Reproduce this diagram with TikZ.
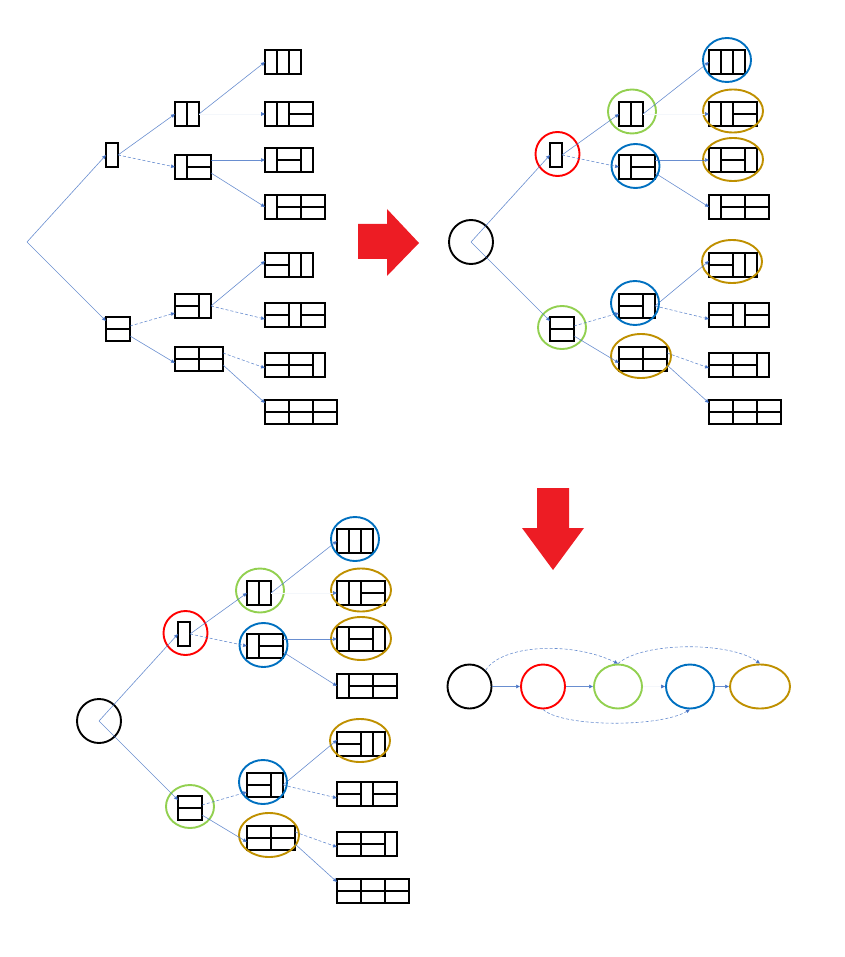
\documentclass[tikz,border=0pt]{standalone}
\usetikzlibrary{arrows.meta,shapes.geometric,calc}
\definecolor{edgec}{RGB}{68,114,196}
\definecolor{cred}{RGB}{255,0,0}
\definecolor{cgreen}{RGB}{146,208,80}
\definecolor{cblue}{RGB}{0,112,192}
\definecolor{cgold}{RGB}{191,144,0}
\definecolor{bigred}{RGB}{237,28,36}
\tikzset{
 dbox/.style={draw=black, line width=1.8pt, minimum height=24pt, inner sep=0pt, outer sep=0pt, anchor=north west},
 divl/.style={draw=black, line width=1.2pt},
 conn/.style={draw=edgec, draw opacity=0.8, line width=0.6pt, -{Triangle[length=4pt,width=3.6pt]}},
 dconn/.style={conn, densely dashed},
 fconn/.style={draw=edgec!6, line width=0.6pt, -{Triangle[length=4pt,width=3.6pt,color=edgec]}},
 ell/.style={ellipse, draw, line width=1.9pt, inner sep=0pt, minimum height=44pt},
}
\newcommand\dbox[4]{\node[dbox, minimum width=#4pt] (#1) at (#2,#3) {};}
\newcommand\vd[2]{\draw[divl] ($(#1.north west)+(#2,0)$) -- ($(#1.south west)+(#2,0)$);}
\newcommand\hd[2]{\draw[divl] ($(#1.west)+(#2,0)$) -- ++(24,0);}
\newcommand\treebody{%
 \dbox{A}{106}{143}{12}
 \dbox{B}{106}{317}{24} \hd{B}{0}
 \dbox{AA}{175}{102}{24} \vd{AA}{12}
 \dbox{AB}{175}{155}{36} \vd{AB}{12} \hd{AB}{12}
 \dbox{BA}{175}{294}{36} \vd{BA}{24} \hd{BA}{0}
 \dbox{BB}{175}{347}{48} \vd{BB}{24} \hd{BB}{0} \hd{BB}{24}
 \dbox{T1}{265}{50}{36} \vd{T1}{12} \vd{T1}{24}
 \dbox{T2}{265}{102}{48} \vd{T2}{12} \vd{T2}{24} \hd{T2}{24}
 \dbox{T3}{265}{148}{48} \vd{T3}{12} \vd{T3}{36} \hd{T3}{12}
 \dbox{T4}{265}{195}{60} \vd{T4}{12} \vd{T4}{36} \hd{T4}{12} \hd{T4}{36}
 \dbox{T5}{265}{253}{48} \vd{T5}{24} \vd{T5}{36} \hd{T5}{0}
 \dbox{T6}{265}{303}{60} \vd{T6}{24} \vd{T6}{36} \hd{T6}{0} \hd{T6}{36}
 \dbox{T7}{265}{353}{60} \vd{T7}{24} \vd{T7}{48} \hd{T7}{0} \hd{T7}{24}
 \dbox{T8}{265}{400}{72} \vd{T8}{24} \vd{T8}{48} \hd{T8}{0} \hd{T8}{24} \hd{T8}{48}
}
\newcommand\treeedges{%
 \draw[conn] (R.center) -- (A.west);
 \draw[conn] (R.center) -- ([yshift=8pt]B.west);
 \draw[conn] (A.east) -- (AA.west);
 \draw[dconn] (A.east) -- (AB.west);
 \draw[conn] (AA.east) -- (T1.west);
 \draw[fconn] (AA.east) -- (T2.west);
 \draw[conn] (AB.east |- T3.west) -- (T3.west);
 \draw[conn] ([yshift=-6pt]AB.east) -- (T4.west);
 \draw[dconn] ([yshift=3pt]B.east) -- ([yshift=-7pt]BA.west);
 \draw[conn] ([yshift=-7pt]B.east) -- ([yshift=-4pt]BB.west);
 \draw[conn] (BA.east) -- ([yshift=4pt]T5.west);
 \draw[dconn] (BA.east) -- ([yshift=-4pt]T6.west);
 \draw[dconn] ([yshift=6pt]BB.east) -- ([yshift=-3pt]T7.west);
 \draw[conn] ([yshift=-6pt]BB.east) -- ([yshift=9pt]T8.west);
}
\newcommand\treecircles{%
 \node[ell, draw=cred, minimum width=44pt] (cA) at ([xshift=1.5pt,yshift=1pt]A.center) {};
 \node[ell, draw=cgreen, minimum width=48pt, minimum height=43pt] (cB) at ([yshift=1.5pt]B.center) {};
 \node[ell, draw=cgreen, minimum width=48pt] (cAA) at ([xshift=1pt,yshift=2.5pt]AA.center) {};
 \node[ell, draw=cblue, minimum width=48pt] (cAB) at ([xshift=-1.5pt,yshift=1pt]AB.center) {};
 \node[ell, draw=cblue, minimum width=48pt] (cBA) at ([xshift=-2pt,yshift=3pt]BA.center) {};
 \node[ell, draw=cgold, minimum width=60pt] (cBB) at ([xshift=-2pt,yshift=3pt]BB.center) {};
 \node[ell, draw=cblue, minimum width=48pt] (cT1) at ([yshift=2pt]T1.center) {};
 \node[ell, draw=cgold, minimum width=60pt, minimum height=43pt] (cT2) at ([yshift=3pt]T2.center) {};
 \node[ell, draw=cgold, minimum width=60pt, minimum height=43pt] (cT3) at ([yshift=0.5pt]T3.center) {};
 \node[ell, draw=cgold, minimum width=60pt, minimum height=43pt] (cT5) at ([xshift=-1pt,yshift=3.5pt]T5.center) {};
}
\begin{document}
\begin{tikzpicture}[x=1pt,y=-1pt]
\useasboundingbox (0,0) rectangle (844,957);
% panel 1
\begin{scope}[name prefix=p1-]
 \coordinate (R) at (27,242);
 \treebody
 \treeedges
\end{scope}
% panel 2
\begin{scope}[shift={(444,0)}, name prefix=p2-]
 \node[ell, draw=black, minimum width=44pt] (R) at (27,242) {};
 \treebody
 \treecircles
 \treeedges
\end{scope}
% panel 3
\begin{scope}[shift={(72,479)}, name prefix=p3-]
 \node[ell, draw=black, minimum width=44pt] (R) at (27,242) {};
 \treebody
 \treecircles
 \treeedges
\end{scope}
% panel 4
\node[ell, draw=black, minimum width=44pt] (k) at (469.5,686.5) {};
\node[ell, draw=cred, minimum width=44pt] (r) at (543,686.5) {};
\node[ell, draw=cgreen, minimum width=48pt] (g) at (618,686.5) {};
\node[ell, draw=cblue, minimum width=48pt] (b) at (690,686.5) {};
\node[ell, draw=cgold, minimum width=60pt] (o) at (760,686.5) {};
\draw[conn] (k) -- (r);
\draw[conn] (r) -- (g);
\draw[fconn] (g) -- (b);
\draw[conn] (b) -- (o);
\draw[dconn] (k.45) .. controls +(15,-25) and +(-48,-23) .. (g.north);
\draw[dconn] (g.north) .. controls +(25,-22) and +(-30,-22) .. (o.north);
\draw[dconn] (r.south) .. controls +(20,18) and +(-30,18) .. (b.south);
% big red arrows
\fill[bigred] (358,224) -- (387,224) -- (387,209) -- (419,243) -- (387,276) -- (387,259) -- (358,259) -- cycle;
\fill[bigred] (537,488) -- (569,488) -- (569,528) -- (584,528) -- (553,570) -- (522,528) -- (537,528) -- cycle;
\end{tikzpicture}
\end{document}
